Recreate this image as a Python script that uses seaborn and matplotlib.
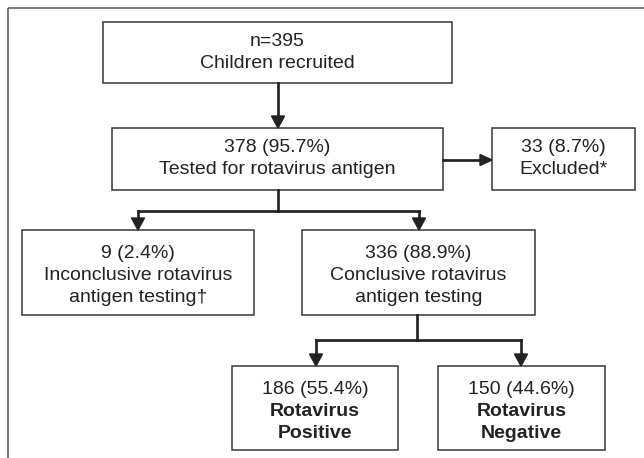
import matplotlib
matplotlib.use("Agg")
import matplotlib.pyplot as plt
import seaborn as sns
from matplotlib.patches import Rectangle, Polygon

sns.set_theme(style="white")
plt.rcParams['font.family'] = ['Liberation Sans', 'DejaVu Sans']

# ---- data ----
node_counts = [395, 378, 33, 9, 336, 186, 150]
node_pcts = [None, 95.7, 8.7, 2.4, 88.9, 55.4, 44.6]
node_titles = [
    ["Children recruited"],
    ["Tested for rotavirus antigen"],
    ["Excluded*"],
    ["Inconclusive rotavirus", "antigen testing\u2020"],
    ["Conclusive rotavirus", "antigen testing"],
    ["Rotavirus", "Positive"],
    ["Rotavirus", "Negative"],
]
title_bold = [False, False, False, False, False, True, True]

# ---- layout (pixels) ----
W, H = 644, 458
boxes = [(103, 22, 452, 83), (112, 128, 443, 190), (492, 128, 635, 190),
         (22, 230, 254, 315), (302, 230, 535, 315),
         (232, 366, 398, 450), (438, 366, 605, 450)]
line_y = [[41, 63], [148, 169], [148, 169], [253, 275, 297], [253, 275, 297],
          [389, 412, 434], [389, 412, 434]]

fig = plt.figure(figsize=(W / 100, H / 100), dpi=100)
ax = fig.add_axes([0, 0, 1, 1])
ax.set_xlim(0, W)
ax.set_ylim(H, 0)
ax.axis("off")

ink = "#222222"
px = 72 / 100  # points per pixel

# outer frame (extends past right and bottom)
ax.add_patch(Rectangle((8, 8), 700, 500, fill=False, edgecolor="#555555",
                       lw=1.5 * px, zorder=1))

for i, (x0, y0, x1, y1) in enumerate(boxes):
    ax.add_patch(Rectangle((x0, y0), x1 - x0, y1 - y0, fill=True, facecolor="white",
                           edgecolor="#333333", lw=1.5 * px, zorder=2))
    cx = (x0 + x1) / 2
    first = f"n={node_counts[i]}" if node_pcts[i] is None else f"{node_counts[i]} ({node_pcts[i]}%)"
    lines = [first] + node_titles[i]
    for j, (txt, yy) in enumerate(zip(lines, line_y[i])):
        ax.text(cx, yy, txt, ha="center", va="center", fontsize=14,
                color=ink, fontweight="bold" if (j > 0 and title_bold[i]) else "normal",
                zorder=3)

lw = 2.7 * px
ah = 12  # arrowhead length
aw = 6.5   # arrowhead half width


def seg(xs, ys):
    ax.plot(xs, ys, color=ink, lw=lw, solid_capstyle="projecting",
            solid_joinstyle="miter", zorder=2)


def arrow_down(x, y0, y1):
    seg([x, x], [y0, y1 - ah + 1])
    ax.add_patch(Polygon([(x - aw, y1 - ah), (x + aw, y1 - ah), (x, y1)],
                         closed=True, color=ink, zorder=3))


def arrow_right(y, x0, x1):
    seg([x0, x1 - ah + 1], [y, y])
    ax.add_patch(Polygon([(x1 - ah, y - aw + 1), (x1 - ah, y + aw - 1), (x1, y)],
                         closed=True, color=ink, zorder=3))


arrow_down(278, 83, 128)
arrow_right(160, 443, 492)

seg([278, 278], [190, 211])
seg([138, 419], [211, 211])
arrow_down(138, 211, 230)
arrow_down(419, 211, 230)

seg([417, 417], [315, 340])
seg([316, 521], [340, 340])
arrow_down(316, 340, 366)
arrow_down(521, 340, 366)

fig.savefig("out.png", dpi=100, facecolor="white")
